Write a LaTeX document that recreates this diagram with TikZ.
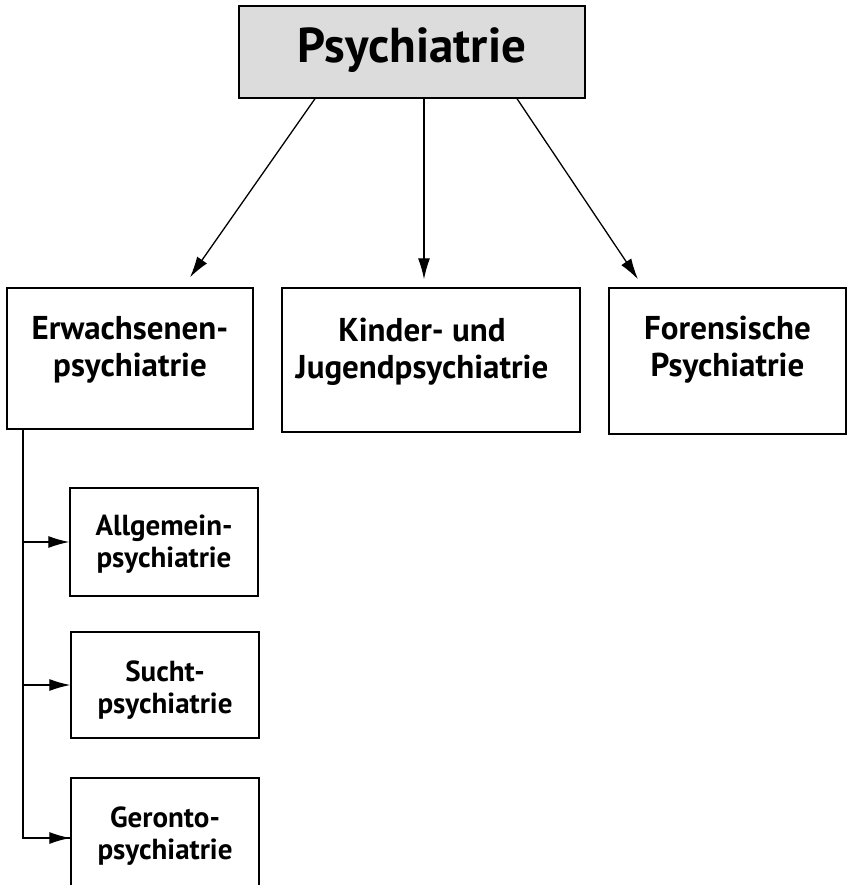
\documentclass[tikz,border=0pt]{standalone}
\usepackage{fontspec}
\setmainfont{PT Sans}
\usetikzlibrary{arrows.meta}
\definecolor{headgray}{HTML}{DCDCDC}
\tikzset{
  box/.style={shape=rectangle, draw=black, line width=1.4pt},
  txt/.style={align=center, font=\bfseries, inner sep=0pt},
  arr/.style={-{Latex[length=21pt,width=12pt]}, line width=1.3pt}
}
\begin{document}
\begin{tikzpicture}[x=1pt,y=-1pt]
	\clip (0,0) rectangle (854,885);
	% main levels
	\node[box, fill=headgray, minimum width=346pt, minimum height=92pt] (top) at (412,52) {};
	\node[txt, font=\fontsize{49}{54}\bfseries\selectfont] at (412,50) {Psychiatrie};
	\node[box, minimum width=246pt, minimum height=141pt] (erw) at (130,358.5) {};
	\node[txt, font=\fontsize{33}{37}\bfseries\selectfont] at (130,350) {Erwachsenen-\\psychiatrie};
	\node[box, minimum width=298pt, minimum height=144pt] (kid) at (431,360) {};
	\node[txt, font=\fontsize{33}{37}\bfseries\selectfont] at (422,352) {Kinder- und\\Jugendpsychiatrie};
	\node[box, minimum width=237pt, minimum height=146pt] (for) at (727.5,361) {};
	\node[txt, font=\fontsize{33}{37}\bfseries\selectfont] at (727.5,350) {Forensische\\Psychiatrie};
	% sub levels
	\node[box, minimum width=188pt, minimum height=108pt] (allg) at (164,542) {};
	\node[txt, font=\fontsize{29}{32}\bfseries\selectfont] at (164,544) {Allgemein-\\psychiatrie};
	\node[box, minimum width=188pt, minimum height=106pt] (sucht) at (165,685) {};
	\node[txt, font=\fontsize{29}{32}\bfseries\selectfont] at (165,690) {Sucht-\\psychiatrie};
	\node[box, minimum width=188pt, minimum height=120pt] (ger) at (165,838) {};
	\node[txt, font=\fontsize{29}{32}\bfseries\selectfont] at (165,836) {Geronto-\\psychiatrie};
	% connectors
	\draw[arr] ([xshift=-97pt]top.south) -- ([xshift=60pt,yshift=10pt]erw.north);
	\draw[arr] ([xshift=12pt]top.south) -- ([xshift=-7pt,yshift=8pt]kid.north);
	\draw[arr] ([xshift=105pt]top.south) -- ([xshift=-89.5pt,yshift=8pt]for.north);
	\coordinate (trunk) at ([xshift=-107pt]erw.south);
	\draw[line width=1.3pt] (trunk) |- (ger.west);
	\draw[arr] (trunk |- allg.west) -- (allg.west);
	\draw[arr] (trunk |- sucht.west) -- (sucht.west);
	\draw[arr] (trunk |- ger.west) -- (ger.west);
\end{tikzpicture}
\end{document}
